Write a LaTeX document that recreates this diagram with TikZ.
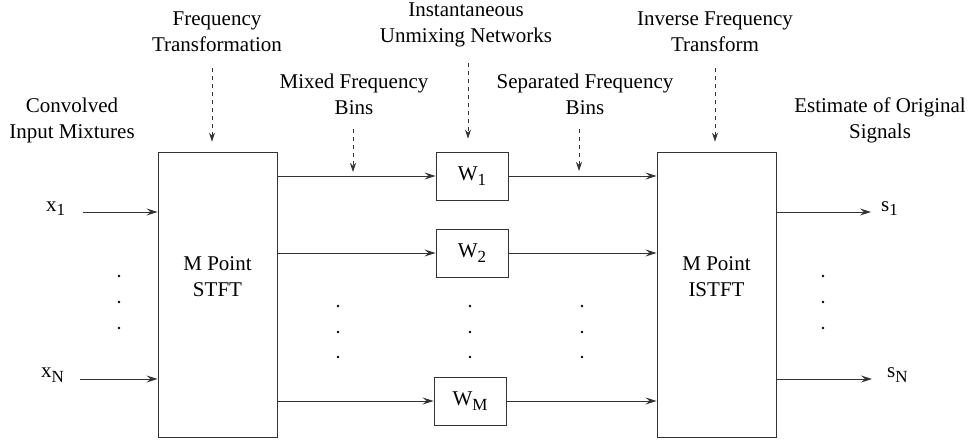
\documentclass[tikz,border=0pt]{standalone}
\usepackage{fontspec}
\setmainfont{LiberationSerif}[Extension=.ttf, UprightFont=*-Regular, BoldFont=*-Bold]
\usetikzlibrary{arrows.meta}
\newcommand\lowidx[1]{\raisebox{-5pt}{\fontsize{17}{17}\selectfont #1}}
\colorlet{linec}{black!80}
\begin{document}
\begin{tikzpicture}[x=1pt,y=-1pt,
  every node/.style={font=\rmfamily\fontsize{21}{26}\selectfont},
  box/.style={draw=linec, line width=0.9pt, inner sep=0pt},
  bigbox/.style={box, minimum width=119pt, minimum height=285pt},
  wbox/.style={box, minimum width=72pt, minimum height=48pt},
  lbl/.style={align=center, anchor=base, inner sep=0pt},
  sig/.style={inner sep=0pt},
  flow/.style={draw=linec, line width=0.9pt, -{Stealth[length=11pt,width=7pt,inset=4pt]}},
  hint/.style={draw=linec, line width=0.8pt, dash pattern=on 4pt off 4pt,
    -{Stealth[length=9pt,width=6pt,inset=3pt]}},
  dotm/.style={fill, radius=1.3pt}]
\useasboundingbox (0,0) rectangle (969,441);

% transform blocks (label coordinates give the baseline of the last line)
\node[bigbox] (stft) at (217.5,294.5) {};
\node[bigbox] (istft) at (716.5,294.5) {};
\node[lbl] (stftlbl) at (217.5,296) {M Point\\STFT};
\node[lbl] (istftlbl) at (716.5,296) {M Point\\ISTFT};

% unmixing networks
\node[wbox] (w1) at (472,176) {W\lowidx{1}};
\node[wbox] (w2) at (472,253) {W\lowidx{2}};
\node[wbox] (wm) at (470,401) {W\lowidx{M}};

% annotations
\node[lbl] (conv) at (72,139) {Convolved\\Input Mixtures};
\node[lbl] (ft) at (217,52) {Frequency\\Transformation};
\node[lbl] (mixed) at (354,115) {Mixed Frequency\\Bins};
\node[lbl] (inst) at (466,43) {Instantaneous\\Unmixing Networks};
\node[lbl] (sep) at (585,115) {Separated Frequency\\Bins};
\node[lbl] (ift) at (715,52) {Inverse Frequency\\Transform};
\node[lbl] (est) at (880,139) {Estimate of Original\\Signals};

% signal labels
\node[sig, anchor=base west] (x1) at (46,211) {x\lowidx{1}};
\node[sig, anchor=base west] (xn) at (41,377) {x\lowidx{N}};
\node[sig, anchor=base west] (s1) at (881,211) {s\lowidx{1}};
\node[sig, anchor=base west] (sn) at (887,377) {s\lowidx{N}};

% inputs and outputs
\coordinate (x1in) at (83,212);
\coordinate (xnin) at (80,379);
\coordinate (s1out) at (871,212);
\coordinate (snout) at (872,379);
\draw[flow] (x1in) -- (x1in -| stft.west);
\draw[flow] (xnin) -- (xnin -| stft.west);
\draw[flow] (s1out -| istft.east) -- (s1out);
\draw[flow] (snout -| istft.east) -- (snout);

% frequency bins
\foreach \w in {w1,w2,wm}{
  \draw[flow] (stft.east |- \w) -- (\w.west);
  \draw[flow] (\w.east) -- (istft.west |- \w);
}

% dashed pointers
\coordinate (fttop) at (212,68);
\coordinate (mixtop) at (353,129);
\coordinate (insttop) at (468,63);
\coordinate (septop) at (579,129);
\coordinate (ifttop) at (715,68);
\draw[hint, shorten >=10pt] (fttop) -- (fttop |- stft.north);
\draw[hint, shorten >=4pt] (mixtop) -- (mixtop |- w1);
\draw[hint, shorten >=13pt] (insttop) -- (insttop |- w1.north);
\draw[hint, shorten >=5pt] (septop) -- (septop |- w1);
\draw[hint, shorten >=10pt] (ifttop) -- (ifttop |- istft.north);

% ellipsis dots
\foreach \y in {276,302,328}{
  \fill[dotm] (119,\y) circle;
  \fill[dotm] (823,\y) circle;
}
\foreach \y in {306,332,357}{
  \fill[dotm] (338,\y) circle;
  \fill[dotm] (470,\y) circle;
  \fill[dotm] (582,\y) circle;
}
\end{tikzpicture}
\end{document}
